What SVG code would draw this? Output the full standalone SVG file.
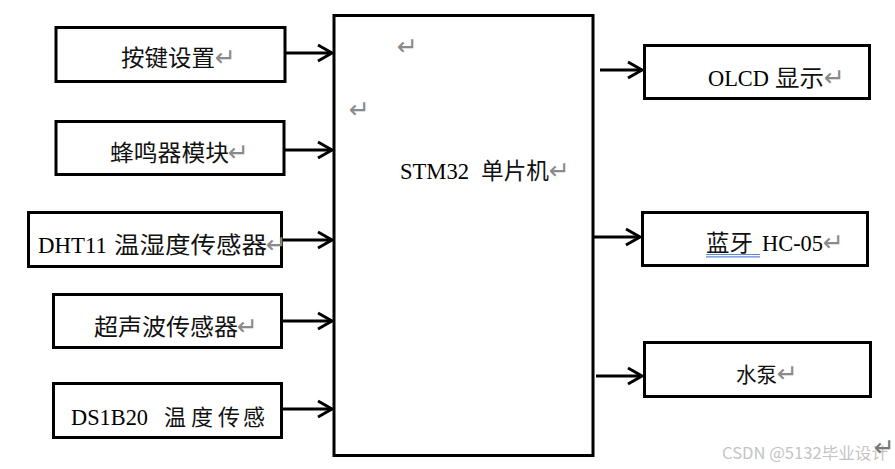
<svg xmlns="http://www.w3.org/2000/svg" width="895" height="469" viewBox="0 0 895 469">
<style>
.box{fill:#fff;stroke:#000;stroke-width:3}
.lat{font-family:"Liberation Serif","Noto Sans CJK SC",serif;font-size:22.5px;fill:#000}
.cjk{font-family:"Noto Sans CJK SC","Liberation Serif",sans-serif;font-size:23px;fill:#111}
.ret{font-family:"DejaVu Sans",sans-serif;font-size:25px;fill:#8a8a8a}
.wm{font-family:"Noto Sans CJK SC","Liberation Sans",sans-serif;font-size:16px;fill:#c4c4c4}
.conn line{stroke:#000;stroke-width:3}
.conn path{fill:none;stroke:#000;stroke-width:3;stroke-linejoin:miter}
</style>
<rect width="895" height="469" fill="#fff"/>
<g id="mcu">
<rect class="box" x="334" y="15.5" width="259" height="440"/>
<text class="ret" x="397" y="55">↵</text>
<text class="ret" x="349" y="118">↵</text>
<text y="179"><tspan class="lat" x="400" textLength="69" lengthAdjust="spacingAndGlyphs">STM32</tspan><tspan class="cjk" x="481" textLength="68" lengthAdjust="spacingAndGlyphs">单片机</tspan><tspan class="ret" x="549" dy="0">↵</tspan></text>
</g>
<g id="key">
<rect class="box" x="56" y="27.5" width="229" height="54"/>
<text y="66"><tspan class="cjk" x="121" textLength="94" lengthAdjust="spacingAndGlyphs">按键设置</tspan><tspan class="ret" x="215" dy="0">↵</tspan></text>
</g>
<g id="buzzer">
<rect class="box" x="56" y="121.5" width="228" height="53"/>
<text y="161"><tspan class="cjk" x="110" textLength="119" lengthAdjust="spacingAndGlyphs">蜂鸣器模块</tspan><tspan class="ret" x="228" dy="0">↵</tspan></text>
</g>
<g id="dht11">
<rect class="box" x="28.5" y="212.5" width="253" height="54"/>
<text y="253"><tspan class="lat" x="38" textLength="69" lengthAdjust="spacingAndGlyphs">DHT11</tspan><tspan class="cjk" x="114" textLength="153" lengthAdjust="spacingAndGlyphs">温湿度传感器</tspan><tspan class="ret" x="266" dy="0">↵</tspan></text>
</g>
<g id="ultrasonic">
<rect class="box" x="53.5" y="294.5" width="228" height="53"/>
<text y="335"><tspan class="cjk" x="94" textLength="144" lengthAdjust="spacingAndGlyphs">超声波传感器</tspan><tspan class="ret" x="237" dy="0">↵</tspan></text>
</g>
<g id="ds18b20">
<rect class="box" x="53.5" y="383.5" width="228" height="54"/>
<text y="425"><tspan class="lat" x="71" textLength="77" lengthAdjust="spacingAndGlyphs">DS1B20</tspan><tspan class="cjk" x="164 191 218 243" style="font-size:22px">温度传感</tspan></text>
</g>
<g id="olcd">
<rect class="box" x="644.5" y="45.5" width="225" height="53"/>
<text y="86"><tspan class="lat" x="708" textLength="61" lengthAdjust="spacingAndGlyphs">OLCD</tspan><tspan class="cjk" x="775" textLength="49" lengthAdjust="spacingAndGlyphs">显示</tspan><tspan class="ret" x="824" dy="0">↵</tspan></text>
</g>
<g id="bluetooth">
<rect class="box" x="642.5" y="212.5" width="225" height="53"/>
<text y="251"><tspan class="cjk" x="706" textLength="47" lengthAdjust="spacingAndGlyphs">蓝牙</tspan><tspan class="lat" x="762" textLength="61" lengthAdjust="spacingAndGlyphs">HC-05</tspan><tspan class="ret" x="823" dy="0">↵</tspan></text>
<line x1="706" y1="254.5" x2="760" y2="254.5" stroke="#5b86d8" stroke-width="1.2"/>
<line x1="706" y1="256.8" x2="760" y2="256.8" stroke="#5b86d8" stroke-width="1.2"/>
</g>
<g id="pump">
<rect class="box" x="644.5" y="342.5" width="226" height="54"/>
<text y="382"><tspan class="cjk" x="736" textLength="41" lengthAdjust="spacingAndGlyphs" style="font-size:21px">水泵</tspan><tspan class="ret" x="777" dy="0">↵</tspan></text>
</g>
<g class="conn" id="connectors">
<line x1="286" y1="53" x2="332" y2="53"/><path d="M318,45 L332,53 L318,61"/>
<line x1="285" y1="150" x2="332" y2="150"/><path d="M318,142 L332,150 L318,158"/>
<line x1="283" y1="240" x2="332" y2="240"/><path d="M318,232 L332,240 L318,248"/>
<line x1="283" y1="321" x2="332" y2="321"/><path d="M318,313 L332,321 L318,329"/>
<line x1="283" y1="409" x2="332" y2="409"/><path d="M318,401 L332,409 L318,417"/>
<line x1="600" y1="70" x2="642" y2="70"/><path d="M628,62 L642,70 L628,78"/>
<line x1="593" y1="237" x2="640" y2="237"/><path d="M626,229 L640,237 L626,245"/>
<line x1="596" y1="376" x2="642" y2="376"/><path d="M628,368 L642,376 L628,384"/>
</g>
<text y="459"><tspan class="wm" x="722" textLength="166" lengthAdjust="spacingAndGlyphs">CSDN @5132毕业设计</tspan><tspan class="ret" x="874" y="456" style="fill:#777">↵</tspan></text>
</svg>
